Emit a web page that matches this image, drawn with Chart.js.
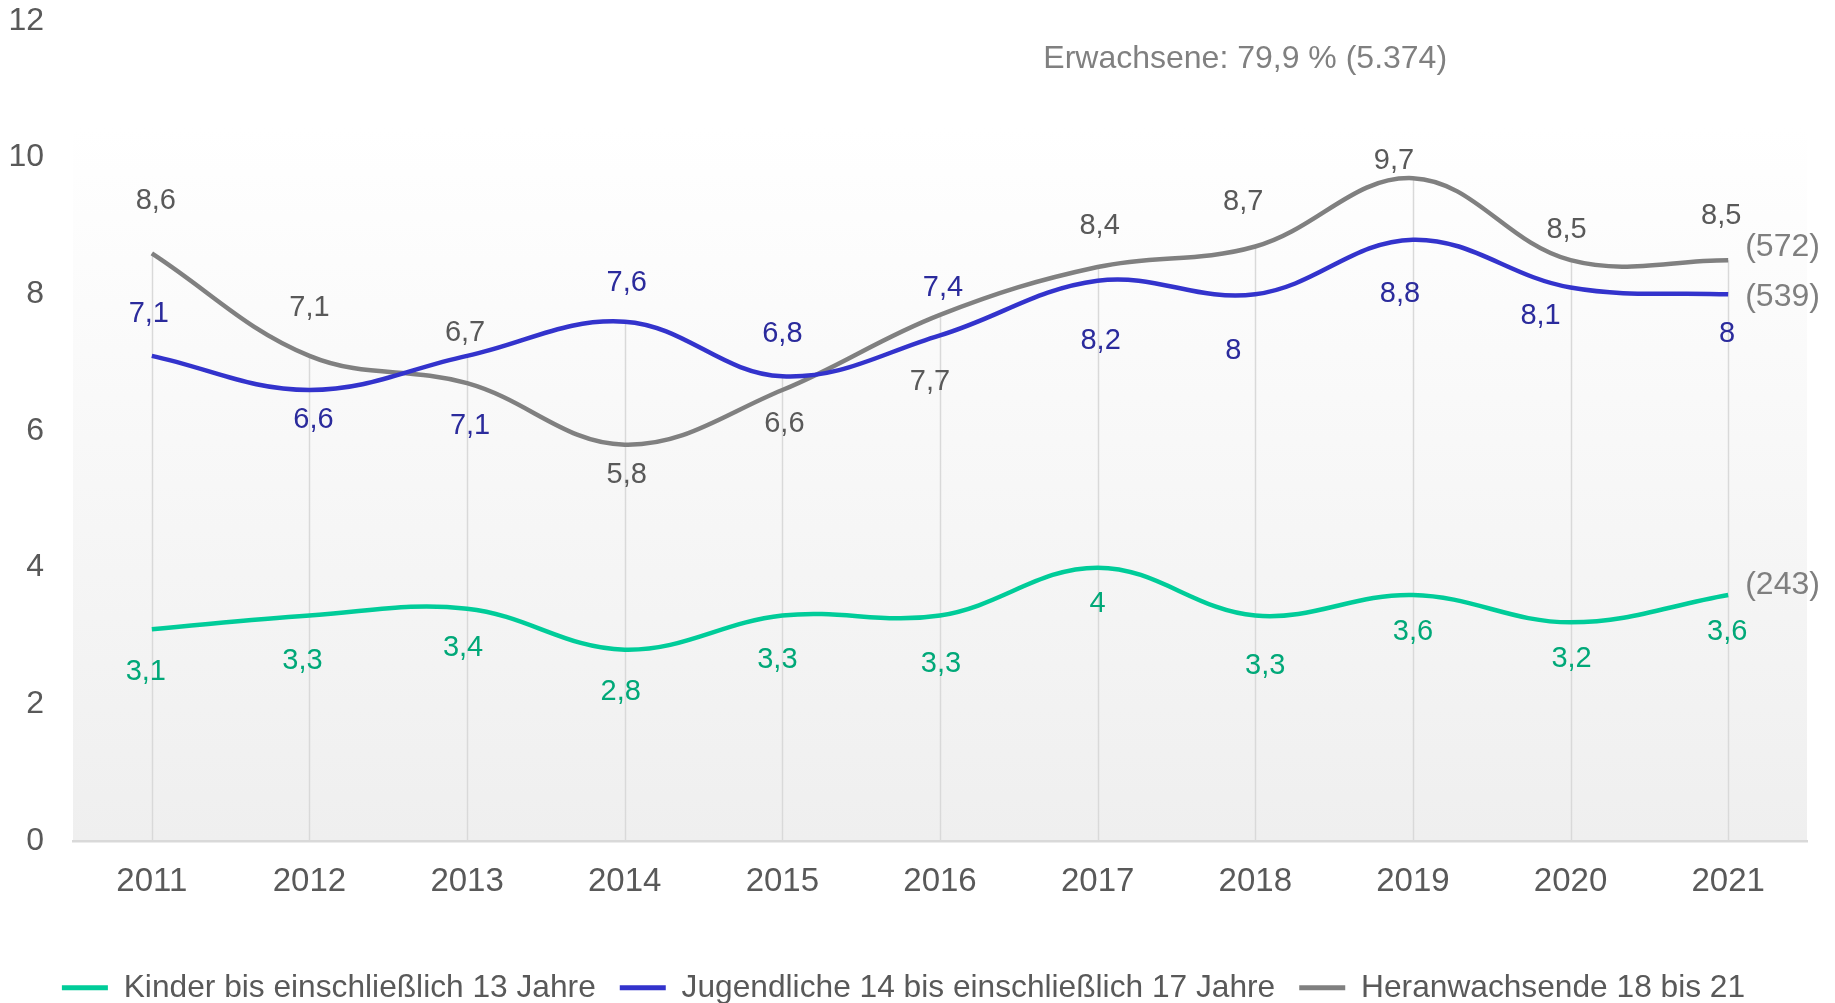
<!DOCTYPE html>
<html><head><meta charset="utf-8">
<script src="https://cdn.jsdelivr.net/npm/chart.js@4/dist/chart.umd.min.js"></script>
<style>html,body{margin:0;padding:0;background:#fff;overflow:hidden}</style>
</head><body>
<canvas id="c" width="1835" height="1003"></canvas>
<script>
// ---- data ----
const years = ['2011','2012','2013','2014','2015','2016','2017','2018','2019','2020','2021'];
const kinder = [3.1,3.3,3.4,2.8,3.3,3.3,4,3.3,3.6,3.2,3.6];
const jugendliche = [7.1,6.6,7.1,7.6,6.8,7.4,8.2,8,8.8,8.1,8];
const heranwachsende = [8.6,7.1,6.7,5.8,6.6,7.7,8.4,8.7,9.7,8.5,8.5];
const seriesNames = ['Kinder bis einschließlich 13 Jahre','Jugendliche 14 bis einschließlich 17 Jahre','Heranwachsende 18 bis 21'];
const endCounts = ['(243)','(539)','(572)'];
const yTicks = [0,2,4,6,8,10,12];
const noteText = 'Erwachsene: 79,9 % (5.374)';

// ---- styles ----
const lineColors = ['#00cc99','#3333cc','#808080'];
const labelColors = ['#00a878','#2b2b9c','#595959'];
const labelDx = [
  [-6,-7,-4,-4,-5,1,0,10,0,1,-1],
  [-3,4,3,2,0,3,3,-22,-13,-30,-1],
  [4,0,-2,2,2,-10,2,-12,-19,-4,-7]
];
const labelDy = [
  [43,45,39,42,44,48,36,50,37,37,37],
  [-42,30,70,-39,-42,-47,60,57,54,28,40],
  [-52,-48,-50,30,34,67,-41,-45,-17,-30,-44]
];
const endDy = [-10,3,-13];
const FONT = "'Liberation Sans', Arial, sans-serif";

const deco = {
  id: 'deco',
  beforeDraw(chart) {
    const {ctx, chartArea: a} = chart;
    const top = a.top + (a.bottom - a.top) * 0.13;
    const g = ctx.createLinearGradient(0, top, 0, a.bottom);
    g.addColorStop(0, '#ffffff');
    g.addColorStop(1, '#efefef');
    ctx.save();
    ctx.fillStyle = g;
    ctx.fillRect(a.left, top, a.right - a.left, a.bottom - top);
    ctx.restore();
  },
  beforeDatasetsDraw(chart) {
    const {ctx} = chart;
    const xs = chart.scales.x, ys = chart.scales.y;
    ctx.save();
    ctx.strokeStyle = '#d9d9d9';
    ctx.lineWidth = 1.5;
    years.forEach((yr, i) => {
      const m = Math.max(kinder[i], jugendliche[i], heranwachsende[i]);
      const px = Math.round(xs.getPixelForValue(i)) + 0.5;
      ctx.beginPath();
      ctx.moveTo(px, ys.getPixelForValue(m));
      ctx.lineTo(px, ys.getPixelForValue(0));
      ctx.stroke();
    });
    ctx.restore();
  },
  afterDatasetsDraw(chart) {
    const {ctx, chartArea: a} = chart;
    ctx.save();
    ctx.textAlign = 'center';
    ctx.textBaseline = 'middle';
    ctx.font = '29px ' + FONT;
    chart.data.datasets.forEach((ds, si) => {
      const meta = chart.getDatasetMeta(si);
      ctx.fillStyle = labelColors[si];
      meta.data.forEach((pt, i) => {
        const txt = String(ds.data[i]).replace('.', ',');
        ctx.fillText(txt, pt.x + labelDx[si][i], pt.y + labelDy[si][i]);
      });
      const last = meta.data[meta.data.length - 1];
      ctx.save();
      ctx.textAlign = 'left';
      ctx.fillStyle = '#7f7f7f';
      ctx.font = '32px ' + FONT;
      ctx.fillText(endCounts[si], last.x + 17, last.y + endDy[si]);
      ctx.restore();
    });
    ctx.fillStyle = '#808080';
    ctx.font = '32px ' + FONT;
    ctx.textAlign = 'center';
    ctx.fillText(noteText, a.left + (a.right - a.left) * 0.676, 59);
    ctx.restore();
  }
};

const seriesData = [kinder, jugendliche, heranwachsende];
new Chart(document.getElementById('c'), {
  type: 'line',
  data: {
    labels: years,
    datasets: seriesData.map((d, i) => ({
      label: seriesNames[i],
      data: d,
      borderColor: lineColors[i],
      backgroundColor: lineColors[i],
      borderWidth: 4.5,
      pointRadius: 0,
      tension: 0.38,
      fill: false
    }))
  },
  options: {
    responsive: false,
    devicePixelRatio: 1,
    animation: false,
    layout: { padding: { top: 21, right: 28, left: 0, bottom: 0 } },
    plugins: {
      tooltip: { enabled: false },
      legend: {
        position: 'bottom',
        maxHeight: 55,
        labels: {
          boxWidth: 46,
          boxHeight: 5,
          padding: 24,
          color: '#595959',
          font: { size: 31.7, family: FONT },
          generateLabels: (chart) => Chart.defaults.plugins.legend.labels.generateLabels(chart).map(l => ({...l, lineWidth: 0}))
        }
      }
    },
    scales: {
      x: {
        offset: true,
        grid: { display: false, drawTicks: false },
        border: { display: true, color: '#d9d9d9', width: 2.5 },
        ticks: { color: '#595959', font: { size: 33, family: FONT }, padding: 21, maxRotation: 0 },
        afterFit: (s) => { s.height = 107; s.paddingLeft = 0; s.paddingRight = 0; }
      },
      y: {
        min: 0, max: 12,
        grid: { display: false, drawTicks: false },
        border: { display: false },
        afterBuildTicks: (s) => { s.ticks = yTicks.map(v => ({ value: v })); },
        ticks: { color: '#595959', font: { size: 32, family: FONT }, padding: 29 },
        afterFit: (s) => { s.width = 73; s.paddingTop = 0; s.paddingBottom = 0; }
      }
    }
  },
  plugins: [deco]
});
</script>
</body></html>
